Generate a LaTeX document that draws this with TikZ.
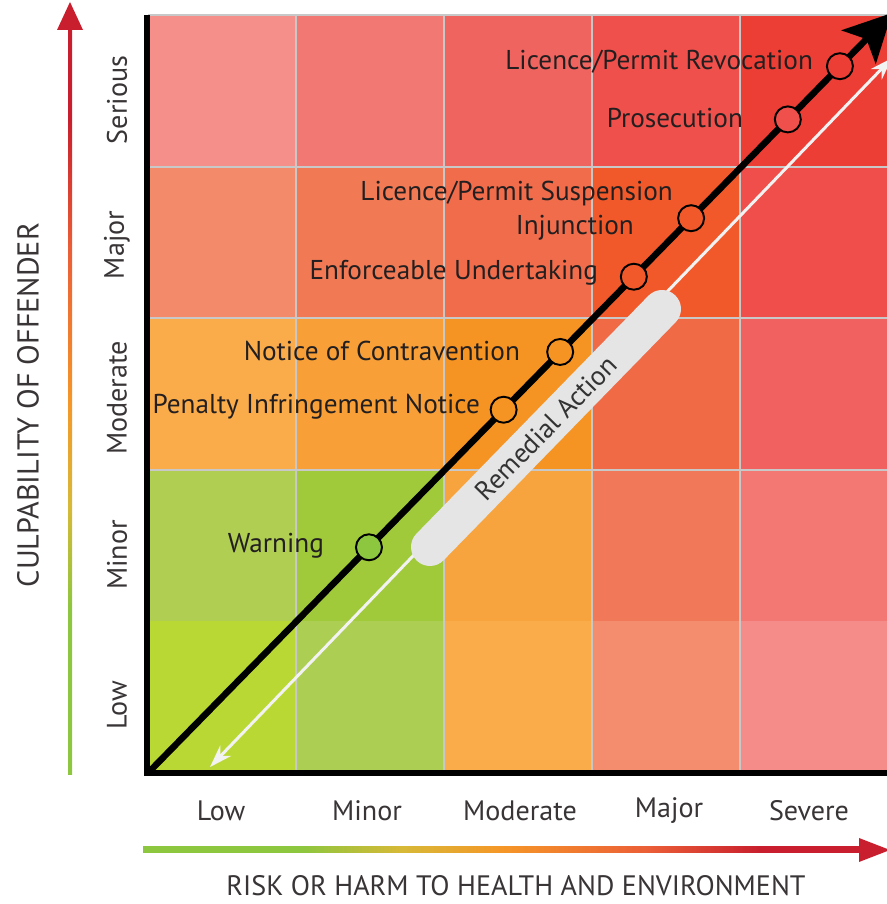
\documentclass[tikz,border=0pt]{standalone}
\usepackage{fontspec}
\setmainfont{PT Sans}
\usetikzlibrary{arrows.meta,positioning}
\definecolor{ink}{RGB}{35,31,32}
\definecolor{gridgray}{RGB}{200,200,200}
\definecolor{axgreen}{RGB}{141,198,63}
\definecolor{axyellow}{RGB}{215,185,55}
\definecolor{axorange}{RGB}{245,150,40}
\definecolor{axorred}{RGB}{235,95,55}
\definecolor{axred}{RGB}{200,30,45}
\definecolor{c11}{RGB}{244,143,138}
\definecolor{c12}{RGB}{242,120,115}
\definecolor{c13}{RGB}{240,100,95}
\definecolor{c14}{RGB}{239,80,75}
\definecolor{c15}{RGB}{236,62,52}
\definecolor{c21}{RGB}{243,138,105}
\definecolor{c22}{RGB}{241,122,85}
\definecolor{c23}{RGB}{240,108,75}
\definecolor{c24}{RGB}{241,89,42}
\definecolor{c25}{RGB}{239,78,74}
\definecolor{c31}{RGB}{250,172,75}
\definecolor{c32}{RGB}{248,160,55}
\definecolor{c33}{RGB}{246,148,35}
\definecolor{c34}{RGB}{240,106,70}
\definecolor{c35}{RGB}{240,97,95}
\definecolor{c41}{RGB}{176,206,82}
\definecolor{c42}{RGB}{160,202,58}
\definecolor{c43}{RGB}{248,164,62}
\definecolor{c44}{RGB}{242,120,90}
\definecolor{c45}{RGB}{243,120,115}
\definecolor{c51}{RGB}{186,216,52}
\definecolor{c52}{RGB}{172,206,82}
\definecolor{c53}{RGB}{250,172,75}
\definecolor{c54}{RGB}{244,140,110}
\definecolor{c55}{RGB}{245,140,138}
\pgfdeclarehorizontalshading{riskshade}{100bp}{color(0bp)=(axgreen); color(25bp)=(axgreen);
  color(36bp)=(axgreen); color(43bp)=(axyellow); color(50bp)=(axorange); color(60bp)=(axorred);
  color(68bp)=(axred); color(75bp)=(axred); color(100bp)=(axred)}
\pgfdeclareverticalshading{culpshade}{100bp}{color(0bp)=(axgreen); color(25bp)=(axgreen);
  color(36bp)=(axgreen); color(43bp)=(axyellow); color(50bp)=(axorange); color(60bp)=(axorred);
  color(69bp)=(axred); color(75bp)=(axred); color(100bp)=(axred)}

\begin{document}
\begin{tikzpicture}[x=0.02cm,y=0.02cm,font=\fontsize{15.5}{18}\selectfont,
  gridline/.style={draw=gridgray,line width=0.04cm},
  stage/.style={circle,draw=black,line width=1.1pt,minimum size=0.52cm,inner sep=0pt},
  lbl/.style={anchor=east,inner sep=1pt,text=ink},
  axlbl/.style={inner sep=1pt,text=ink!90,font=\fontsize{16}{19}\selectfont}]
\useasboundingbox (0,0) rectangle (887,904);
\foreach \i in {1,...,5}
  \foreach \j in {1,...,5}
    \fill[c\i\j] ({148*\j},{889-151.6*\i}) rectangle ({148*(\j+1)},{889-151.6*(\i-1)});
\foreach \k in {2,...,5}
  \draw[gridline] ({148*\k},131) -- ({148*\k},889);
\foreach \k in {0,...,3}
  \draw[gridline] (148,{889-151.6*\k}) -- (887,{889-151.6*\k});
\draw[line width=0.14cm] (147,889) -- (147,131) -- (887,131);
\coordinate (back) at (210,137);
\coordinate (fwd) at (892,846);
\draw[draw=black!5,line width=0.06cm,{Stealth[length=0.45cm,width=0.3cm]}-{Stealth[length=0.45cm,width=0.3cm]}] (back) -- (fwd);
\draw[black!10,line width=0.76cm,line cap=round] (430,357) -- (662,595);
\node[rotate=45.6,inner sep=1pt,text=black!80] (remedial) at (546,476) {Remedial Action};
\coordinate (origin) at (148,131);
\coordinate (tip) at (892,891);
\draw[line width=0.13cm,-{Stealth[length=0.95cm,width=0.95cm,inset=0.22cm]}] (origin) -- (tip)
  node[stage,fill=axgreen,pos=.297] (warn) {}
  node[stage,fill=c33,pos=.478] (pin) {}
  node[stage,fill=c33,pos=.554] (noc) {}
  node[stage,fill=c24,pos=.653] (eu) {}
  node[stage,fill=c24,pos=.730] (susp) {}
  node[stage,fill=c14,pos=.860] (pros) {}
  node[stage,fill=c15,pos=.930] (revo) {};
\node[lbl] (twarn) at (326,358) {Warning};
\node[lbl] (tpin) at (482,497) {Penalty Infringement Notice};
\node[lbl] (tnoc) at (522,553) {Notice of Contravention};
\node[lbl] (teu) at (600,631) {Enforceable Undertaking};
\node[lbl] (tsusp) at (675,710) {Licence/Permit Suspension};
\node[lbl] (tinj) at (636,676) {Injunction};
\node[lbl] (tpros) at (745,786) {Prosecution};
\node[lbl] (trevo) at (815,842) {Licence/Permit Revocation};
\node[axlbl,rotate=90] (rserious) at (117,804) {Serious};
\node[axlbl,rotate=90] (rmajor) at (117,659) {Major};
\node[axlbl,rotate=90] (rmoderate) at (117,506) {Moderate};
\node[axlbl,rotate=90] (rminor) at (117,349) {Minor};
\node[axlbl,rotate=90] (rlow) at (117,199) {Low};
\node[axlbl] (clow) at (221,93) {Low};
\node[axlbl] (cminor) at (367,93) {Minor};
\node[axlbl] (cmoderate) at (520,93) {Moderate};
\node[axlbl] (cmajor) at (669,93) {Major};
\node[axlbl] (csevere) at (809,93) {Severe};
\shade[shading=culpshade] (68,129) rectangle (72,876);
\fill[axred] (57,874) -- (70,902) -- (83,874) -- cycle;
\shade[shading=riskshade] (143,51) rectangle (862,57);
\fill[axred] (859,42) -- (890,54) -- (859,66) -- cycle;
\node[axlbl,rotate=90,font=\fontsize{17.2}{20}\selectfont] (culp) at (28,499) {CULPABILITY OF OFFENDER};
\node[axlbl] (risk) at (516,18) {RISK OR HARM TO HEALTH AND ENVIRONMENT};
\end{tikzpicture}
\end{document}
